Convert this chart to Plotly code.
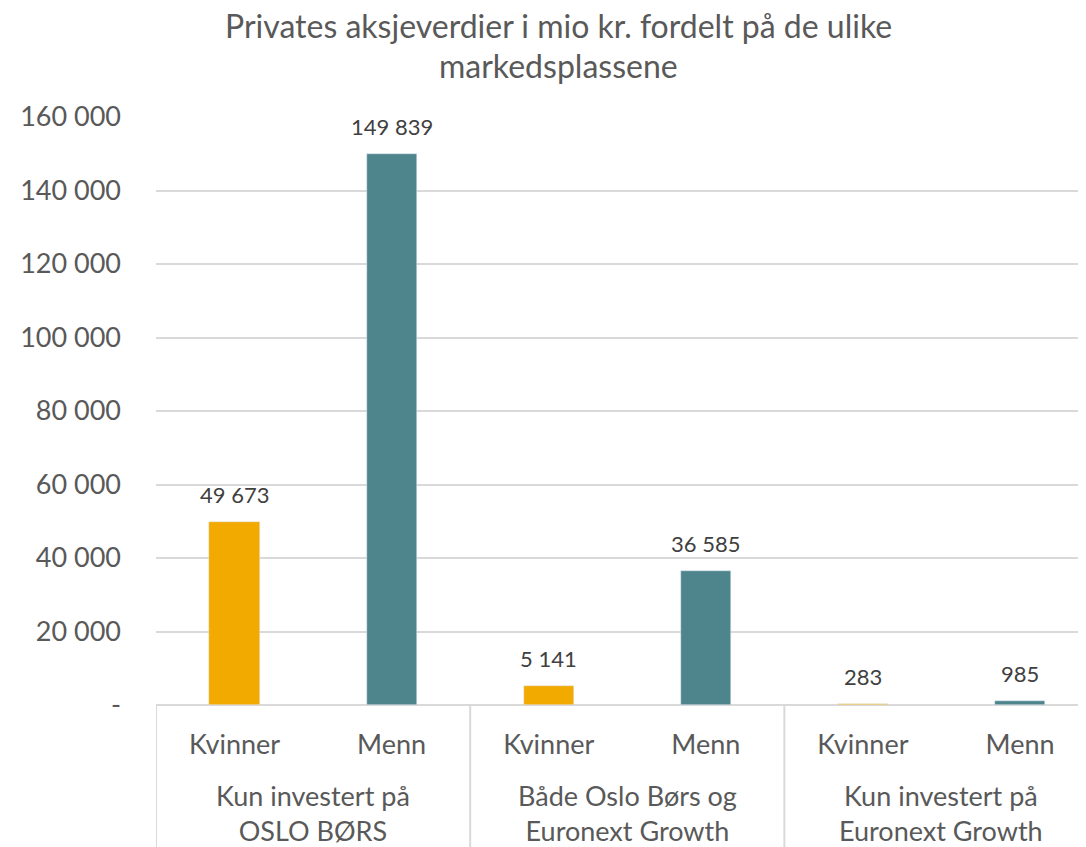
import plotly.graph_objects as go

categories = ["Kvinner", "Menn", "Kvinner", "Menn", "Kvinner", "Menn"]
groups = ["Kun investert på<br>OSLO BØRS", "Både Oslo Børs og<br>Euronext Growth", "Kun investert på<br>Euronext Growth"]
kvinner_values = [49673, 5141, 283]
menn_values = [149839, 36585, 985]
y_tickvals = [0, 20000, 40000, 60000, 80000, 100000, 120000, 140000, 160000]
y_ticktext = ["-", "20 000", "40 000", "60 000", "80 000", "100 000", "120 000", "140 000", "160 000"]
title_lines = ["Privates aksjeverdier i mio kr. fordelt på de ulike", "markedsplassene"]

YELLOW = "#F2A900"
TEAL = "#4E848C"
GRID = "#D9D9D9"
TXT = "#595959"
LBL = "#404040"
FONT = "Lato"

W, H = 1078, 839
ML, MR, MT, MB = 148, 0, 109, 142
PW, PH = W - ML - MR, H - MT - MB

kx = [0, 2, 4]
mx = [1, 3, 5]

fig = go.Figure()
fig.add_trace(go.Bar(x=kx, y=kvinner_values, marker_color=YELLOW, width=0.32, name="Kvinner"))
fig.add_trace(go.Bar(x=mx, y=menn_values, marker_color=TEAL, width=0.32, name="Menn"))

# data labels
for xs, vals in ((kx, kvinner_values), (mx, menn_values)):
    for xv, v in zip(xs, vals):
        fig.add_annotation(x=xv, y=v, xref="x", yref="y", text=f"{v:,}".replace(",", " "),
                           showarrow=False, yanchor="bottom", yshift=12,
                           font=dict(size=22, color=LBL, family=FONT))

# group labels and dividers
for i, g in enumerate(groups):
    fig.add_annotation(x=2 * i + 0.5, y=-0.122, xref="x", yref="paper", text=g,
                       showarrow=False, yanchor="top", align="center",
                       font=dict(size=27, color=TXT, family=FONT))
for xv in [-0.5, 1.5, 3.5]:
    fig.add_shape(type="line", xref="x", yref="paper", x0=xv, x1=xv, y0=0, y1=-0.3,
                  line=dict(color=GRID, width=2))

# title (two lines) as annotations in the top margin
title_cx = (550 - ML) / PW
for j, line in enumerate(title_lines):
    cy = 17 + 41 * j
    fig.add_annotation(x=title_cx, y=1 + (MT - cy) / PH, xref="paper", yref="paper",
                       xanchor="center", yanchor="middle", text=line, showarrow=False,
                       font=dict(size=32, color=TXT, family=FONT))

fig.update_layout(
    width=W, height=H,
    margin=dict(l=ML, r=MR, t=MT, b=MB),
    paper_bgcolor="white", plot_bgcolor="white",
    showlegend=False,
    bargap=0,
    font=dict(family=FONT, color=TXT),
    xaxis=dict(range=[-0.5, 5.42], tickmode="array", tickvals=list(range(6)), ticktext=categories,
               tickfont=dict(size=27, color=TXT, family=FONT), showgrid=False, zeroline=False,
               showline=False, ticks="", ticklabelstandoff=21),
    yaxis=dict(range=[0, 160000], tickvals=y_tickvals, ticktext=y_ticktext,
               tickfont=dict(size=27, color=TXT, family=FONT), showgrid=True, gridcolor=GRID,
               gridwidth=2, zeroline=True, zerolinecolor=GRID, zerolinewidth=2,
               showline=False, ticks="", ticklabelstandoff=34),
)

fig.write_html("out.html")
